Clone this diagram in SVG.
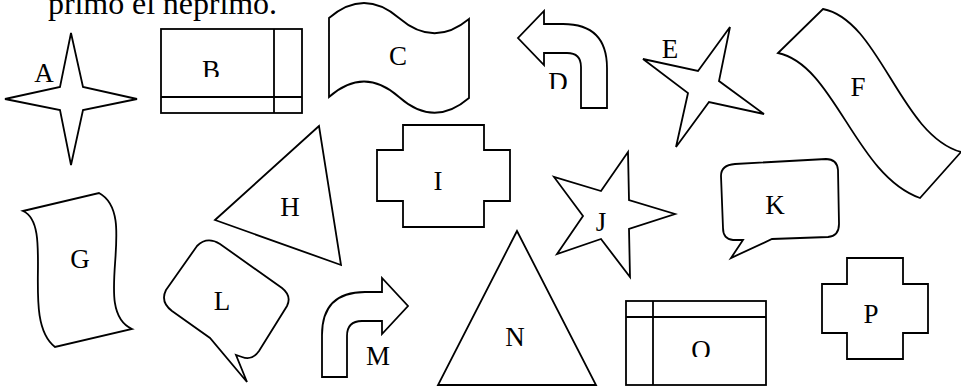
<svg xmlns="http://www.w3.org/2000/svg" width="961" height="387" viewBox="0 0 961 387">
<style>
.s{fill:#fff;stroke:#000;stroke-width:1.8;stroke-linejoin:miter}
.l{fill:none;stroke:#000;stroke-width:1.8}
.t{font-family:"Liberation Serif","Times New Roman",serif;font-size:27px;fill:#000;text-anchor:middle}
</style>
<defs>
<clipPath id="cB"><rect x="150" y="40" width="120" height="37"/></clipPath>
<clipPath id="cC"><rect x="340" y="30" width="120" height="37"/></clipPath>
<clipPath id="cD"><rect x="530" y="60" width="60" height="29"/></clipPath>
<clipPath id="cO"><rect x="660" y="320" width="90" height="37"/></clipPath>
</defs>
<rect width="961" height="387" fill="#fff"/>
<text x="48" y="14" style="font-family:'Liberation Serif','Times New Roman',serif;font-size:32px" textLength="229">primo ei neprimo.</text>
<g id="A"><polygon class="s" points="71,33 83,87 137,99 83,110 71,165 60,110 5,99 60,87"/><text class="t" x="44" y="82">A</text></g>
<g id="B"><rect class="s" x="161" y="29" width="141" height="84"/><line class="l" x1="274" y1="29" x2="274" y2="113"/><line class="l" x1="161" y1="97" x2="302" y2="97"/><text class="t" x="211" y="79" clip-path="url(#cB)">B</text></g>
<g id="C"><path class="s" d="M329,18 Q364,-12 399,18 T469,19 V98 Q434,128 399,97 T329,97 Z"/><text class="t" x="398" y="65" clip-path="url(#cC)">C</text></g>
<g id="D"><path class="s" d="M544,24 H563 Q607,24 607,68 V108 H581 V67 Q581,53 567,53 H544 V65 L518,38 L544,11 Z"/><text class="t" x="558" y="91" clip-path="url(#cD)">D</text></g>
<g id="E"><polygon class="s" points="730,27 719,81 764,114 709,102 676,147 688,93 643,59 698,71"/><text class="t" x="670" y="58">E</text></g>
<g id="F"><path class="s" d="M823,9 C880,20 900,135 961,152 L920,198 C855,175 835,65 778,53 Z"/><text class="t" x="858" y="96">F</text></g>
<g id="G"><path class="s" d="M23,211 L99,193 C140,215 90,310 132,329 L55,347 C20,320 55,225 23,211 Z"/><text class="t" x="80" y="268">G</text></g>
<g id="H"><polygon class="s" points="319,126 215,220 341,265"/><text class="t" x="290" y="216">H</text></g>
<g id="I"><polygon class="s" points="403,125 484,125 484,150 510,150 510,201 484,201 484,227 403,227 403,201 377,201 377,150 403,150"/><text class="t" x="438" y="190">I</text></g>
<g id="J"><polygon class="s" points="628,152 629,200 675,214 629,229 630,277 601,239 557,254 583,216 554,177 601,191"/><text class="t" x="601" y="231">J</text></g>
<g id="K"><path class="s" d="M735,164 L826,159 Q837,159 838,170 L839,224 Q839,236 828,237 L772,239 L731,258 L743,240 L733,240 Q723,239 723,228 L721,176 Q721,165 735,164 Z"/><text class="t" x="775" y="214">K</text></g>
<g id="L"><path class="s" d="M166,290 L197,246 Q207,236 220,244 L282,288 Q292,296 287,306 L259,351 Q252,361 242,357 L236,355 L247,382 L210,338 L172,311 Q160,302 166,290 Z"/><text class="t" x="222" y="310">L</text></g>
<g id="M"><path class="s" d="M322,377 V335 Q322,292 365,292 H382 V278 L408,306 L382,334 V321 H362 Q347,321 347,336 V377 Z"/><text class="t" x="378" y="365">M</text></g>
<g id="N"><polygon class="s" points="517,231 438,385 596,385"/><text class="t" x="515" y="346">N</text></g>
<g id="O"><rect class="s" x="626" y="301" width="140" height="84"/><line class="l" x1="653" y1="301" x2="653" y2="385"/><line class="l" x1="626" y1="317" x2="766" y2="317"/><text class="t" x="701" y="359" clip-path="url(#cO)">O</text></g>
<g id="P"><polygon class="s" points="847,258 903,258 903,284 928,284 928,333 903,333 903,359 847,359 847,333 822,333 822,284 847,284"/><text class="t" x="871" y="323">P</text></g>
<g id="connectors"></g>
</svg>
